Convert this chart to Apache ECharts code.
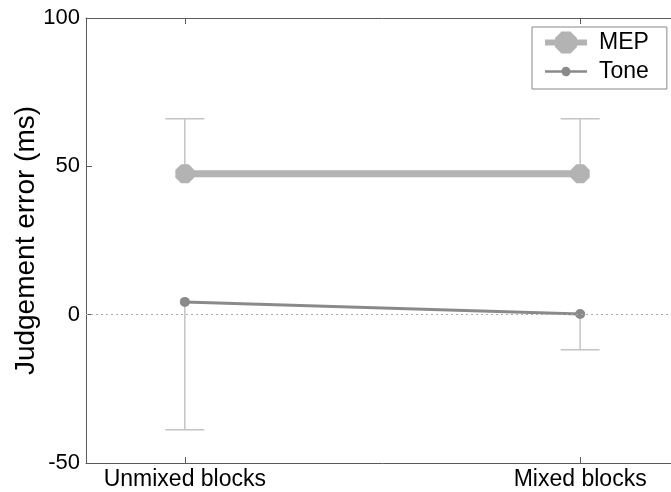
<!DOCTYPE html>
<html><head><meta charset="utf-8">
<script src="https://cdn.jsdelivr.net/npm/echarts@6/dist/echarts.min.js"></script>
<style>html,body{margin:0;padding:0;background:#fff;overflow:hidden;width:671px;height:492px}#c{width:690px;height:492px}</style>
</head><body><div id="c"></div>
<script>
const categories = ['Unmixed blocks', 'Mixed blocks'];
const mepValues = [47.5, 47.5];
const mepErrUpper = [66, 66];
const toneValues = [4.3, 0.2];
const toneErrLower = [-38.8, -11.8];

const chart = echarts.init(document.getElementById('c'), null, {renderer: 'canvas'});
const font = 'Liberation Sans, Arial, sans-serif';
const axisCol = '#5a5a5a';
const mepCol = '#b3b3b3';
const toneCol = '#8a8a8a';

function errItem(params, api) {
  const x = api.value(0), lo = api.value(1), hi = api.value(2);
  const pLo = api.coord([x, lo]), pHi = api.coord([x, hi]);
  const capHalf = 19.5;
  const capY = api.value(3) === 1 ? pHi[1] : pLo[1];
  const st = {stroke: '#c4c4c4', lineWidth: 1.5};
  return {type: 'group', children: [
    {type: 'line', shape: {x1: pLo[0], y1: pLo[1], x2: pHi[0], y2: pHi[1]}, style: st},
    {type: 'line', shape: {x1: pHi[0] - capHalf, y1: capY, x2: pHi[0] + capHalf, y2: capY}, style: st}
  ]};
}

const xIdx = categories.map((c, i) => i + 1);
const mepIcon = 'path://M0,8 L10,8 L10,6.5 L16.5,0 L25.5,0 L32,6.5 L32,8 L42,8 L42,14 L32,14 L32,15.5 L25.5,22 L16.5,22 L10,15.5 L10,14 L0,14 Z';
const toneIcon = 'path://M0,3.2 L16.6,3.2 A4.5,4.5 0 0,1 25.4,3.2 L42,3.2 L42,5.8 L25.4,5.8 A4.5,4.5 0 0,1 16.6,5.8 L0,5.8 Z';

chart.setOption({
  animation: false,
  backgroundColor: '#fff',
  grid: {left: 86, top: 18, width: 593, height: 445, containLabel: false, outerBoundsMode: 'none'},
  graphic: [{type: 'rect', left: 669, top: 20, shape: {width: 4, height: 440}, style: {fill: '#fff'}, z: 100, silent: true}],
  legend: {
    left: 532, top: 27, orient: 'vertical', itemGap: 6,
    borderColor: '#888', borderWidth: 1, padding: [4, 18, 6, 13],
    itemWidth: 42, itemHeight: 22, symbolKeepAspect: true,
    textStyle: {fontFamily: font, fontSize: 23, color: '#000', padding: [0, 0, 0, 7], lineHeight: 22},
    data: [{name: 'MEP', icon: mepIcon}, {name: 'Tone', icon: toneIcon}]
  },
  xAxis: [{
    type: 'value', min: 0.75, max: 2.25, position: 'bottom',
    axisLine: {show: true, onZero: false, lineStyle: {color: axisCol, width: 1}},
    axisTick: {show: true, inside: true, length: 6, customValues: xIdx, lineStyle: {color: axisCol}},
    axisLabel: {customValues: xIdx, formatter: v => categories[Math.round(v) - 1] || '', fontFamily: font, fontSize: 23, color: '#000', margin: 5},
    splitLine: {show: false}
  }, {
    type: 'value', min: 0.75, max: 2.25, position: 'top',
    axisLine: {show: true, onZero: false, lineStyle: {color: axisCol, width: 1}},
    axisTick: {show: true, inside: true, length: 6, customValues: xIdx, lineStyle: {color: axisCol}},
    axisLabel: {show: false}, splitLine: {show: false}
  }],
  yAxis: [{
    type: 'value', min: -50, max: 100, interval: 50,
    axisLine: {show: true, lineStyle: {color: axisCol, width: 1}},
    axisTick: {show: true, inside: true, length: 6, lineStyle: {color: axisCol}},
    axisLabel: {fontFamily: font, fontSize: 22, color: '#000', margin: 6},
    splitLine: {show: false},
    name: 'Judgement error (ms)', nameLocation: 'middle', nameGap: 46, nameMoveOverlap: false,
    nameTextStyle: {fontFamily: font, fontSize: 28, color: '#000'}
  }],
  series: [
    {
      type: 'custom', name: 'errMEP', renderItem: errItem, z: 1,
      data: xIdx.map((x, i) => [x, mepValues[i], mepErrUpper[i], 1]),
      encode: {x: 0, y: [1, 2]}, silent: true
    },
    {
      type: 'custom', name: 'errTone', renderItem: errItem, z: 1,
      data: xIdx.map((x, i) => [x, toneErrLower[i], toneValues[i], 0]),
      encode: {x: 0, y: [1, 2]}, silent: true
    },
    {
      type: 'line', name: 'MEP', z: 3,
      data: xIdx.map((x, i) => [x, mepValues[i]]),
      symbol: 'path://M3,0 L7,0 L10,3 L10,7 L7,10 L3,10 L0,7 L0,3 Z', symbolSize: 19,
      lineStyle: {color: mepCol, width: 7},
      itemStyle: {color: mepCol},
      markLine: {
        silent: true, symbol: 'none', label: {show: false},
        lineStyle: {color: '#aaa', type: [2, 3], width: 1},
        data: [{yAxis: 0}]
      }
    },
    {
      type: 'line', name: 'Tone', z: 4,
      data: xIdx.map((x, i) => [x, toneValues[i]]),
      symbol: 'circle', symbolSize: 10,
      lineStyle: {color: toneCol, width: 3},
      itemStyle: {color: toneCol}
    }
  ]
});
</script></body></html>
